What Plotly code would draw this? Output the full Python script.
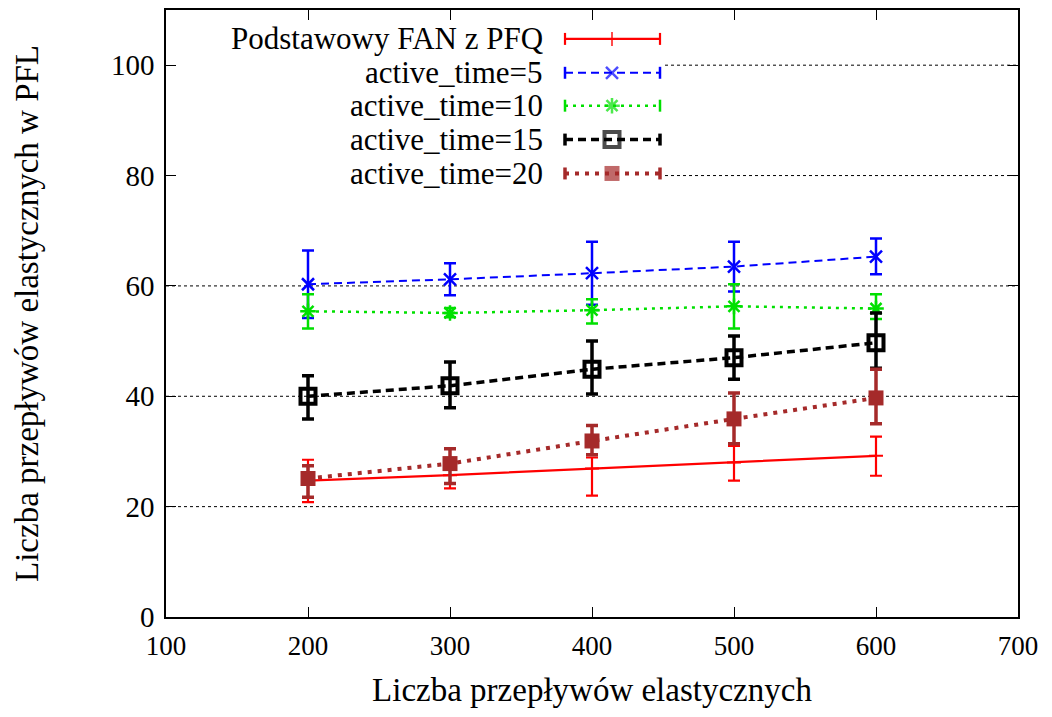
import plotly.graph_objects as go

# ---------------- data ----------------
x_vals = [200, 300, 400, 500, 600]

series_names = ["Podstawowy FAN z PFQ", "active_time=5", "active_time=10",
                "active_time=15", "active_time=20"]

red_y = [24.7, 25.7, 26.9, 28.0, 29.2]
red_hi = [28.5, 28.2, 28.9, 31.0, 32.7]
red_lo = [20.8, 23.3, 22.0, 24.7, 25.6]

blue_y = [60.3, 61.2, 62.3, 63.5, 65.3]
blue_hi = [66.4, 64.1, 68.0, 68.0, 68.6]
blue_lo = [54.2, 58.3, 56.6, 59.0, 62.1]

green_y = [55.4, 55.1, 55.6, 56.3, 55.9]
green_hi = [58.5, 56.0, 57.6, 60.3, 58.5]
green_lo = [52.3, 54.3, 53.2, 52.3, 54.0]

black_y = [40.0, 41.9, 44.9, 47.0, 49.7]
black_hi = [43.7, 46.2, 50.0, 50.9, 55.1]
black_lo = [35.9, 37.9, 40.4, 43.1, 45.1]

brown_y = [25.1, 27.8, 31.9, 35.9, 39.7]
brown_hi = [27.4, 30.5, 34.7, 40.6, 44.9]
brown_lo = [21.7, 24.2, 29.4, 31.4, 35.0]

x_ticks = [100, 200, 300, 400, 500, 600, 700]
y_ticks = [0, 20, 40, 60, 80, 100]
grid_y = [20, 40, 60, 80, 100]

x_title = "Liczba przepływów elastycznych"
y_title = "Liczba przepływów elastycznych w PFL"

# ---------------- styles ----------------
FONT = "Liberation Serif, Times New Roman, serif"
W, H = 1052, 717
ML, MR, MT, MB = 166, 34, 8, 100

styles = [
    dict(color="#ff0000", dash="solid", width=2.2, symbol="cross-thin-open", msize=10, mlw=2, ebw=2.2),
    dict(color="#0000ff", dash="8px,5px", width=2, symbol="x-thin-open", msize=12, mlw=2.5, ebw=2.5),
    dict(color="#00e000", dash="3px,5px", width=2.5, symbol="asterisk-open", msize=13, mlw=2.5, ebw=2.5),
    dict(color="#000000", dash="8px,5px", width=3.5, symbol="square-open", msize=15, mlw=4, ebw=3.5),
    dict(color="#a52a2a", dash="4px,6px", width=4, symbol="square", msize=15, mlw=0, ebw=3.5),
]

data = [
    (red_y, red_hi, red_lo),
    (blue_y, blue_hi, blue_lo),
    (green_y, green_hi, green_lo),
    (black_y, black_hi, black_lo),
    (brown_y, brown_hi, brown_lo),
]

fig = go.Figure()

for name, (ys, hi, lo), st in zip(series_names, data, styles):
    fig.add_trace(go.Scatter(
        x=x_vals, y=ys, name=name, mode="lines+markers", showlegend=False,
        line=dict(color=st["color"], dash=st["dash"], width=st["width"]),
        marker=dict(symbol=st["symbol"], size=st["msize"], color=st["color"],
                    line=dict(color=st["color"], width=st["mlw"])),
        error_y=dict(type="data", symmetric=False,
                     array=[h - y for h, y in zip(hi, ys)],
                     arrayminus=[y - l for y, l in zip(ys, lo)],
                     color=st["color"], thickness=st["ebw"], width=6),
    ))

# ---------------- custom legend (gnuplot style: text left, sample right) ----------------
leg_text_right = 545
leg_sample_x = [565, 612, 660]
leg_rows = [37, 71, 104, 138, 172]
leg_box_right = 665

for name, st, ry in zip(series_names, styles, leg_rows):
    fig.add_trace(go.Scatter(
        x=leg_sample_x, y=[ry] * 3, xaxis="x2", yaxis="y2", mode="lines+markers",
        showlegend=False, hoverinfo="skip",
        line=dict(color=st["color"], dash=st["dash"], width=st["width"]),
        marker=dict(symbol=st["symbol"], size=[0, st["msize"], 0], color=st["color"],
                    line=dict(color=st["color"], width=st["mlw"])),
        error_y=dict(type="data", array=[6, 0, 6], color=st["color"],
                     thickness=st["ebw"], width=0),
    ))
    fig.add_annotation(x=leg_text_right, y=ry, xref="x2", yref="y2", text=name,
                       showarrow=False, xanchor="right", yanchor="middle",
                       font=dict(family=FONT, size=31, color="black"))

# ---------------- grid lines (hidden behind the key at the top) ----------------
plot_w = W - ML - MR
for gy in grid_y:
    x0 = 0.0 if gy < 75 else (leg_box_right - ML) / plot_w
    fig.add_shape(type="line", xref="paper", yref="y", x0=x0, x1=1, y0=gy, y1=gy,
                  line=dict(color="black", width=1, dash="3px,3px"), layer="below")

fig.update_layout(
    width=W, height=H,
    margin=dict(l=ML, r=MR, t=MT, b=MB),
    paper_bgcolor="white", plot_bgcolor="white",
    font=dict(family=FONT, color="black"),
    xaxis=dict(range=[100, 700], tickvals=x_ticks, ticks="inside", ticklen=10,
               tickwidth=1, tickcolor="black", showline=True, linecolor="black",
               linewidth=1.5, mirror="ticks", showgrid=False, zeroline=False,
               tickfont=dict(family=FONT, size=27), ticklabelstandoff=4,
               title=dict(text=x_title, font=dict(family=FONT, size=33), standoff=18)),
    yaxis=dict(range=[0, 110], tickvals=y_ticks, ticks="inside", ticklen=10,
               tickwidth=1, tickcolor="black", showline=True, linecolor="black",
               linewidth=1.5, mirror="ticks", showgrid=False, zeroline=False,
               tickfont=dict(family=FONT, size=29), ticklabelstandoff=4,
               title=dict(text=y_title, font=dict(family=FONT, size=33), standoff=62)),
    xaxis2=dict(range=[ML, W - MR], overlaying="x", visible=False, fixedrange=True),
    yaxis2=dict(range=[H - MB, MT], overlaying="y", visible=False, fixedrange=True),
    showlegend=False,
)

fig.write_html("out.html")
